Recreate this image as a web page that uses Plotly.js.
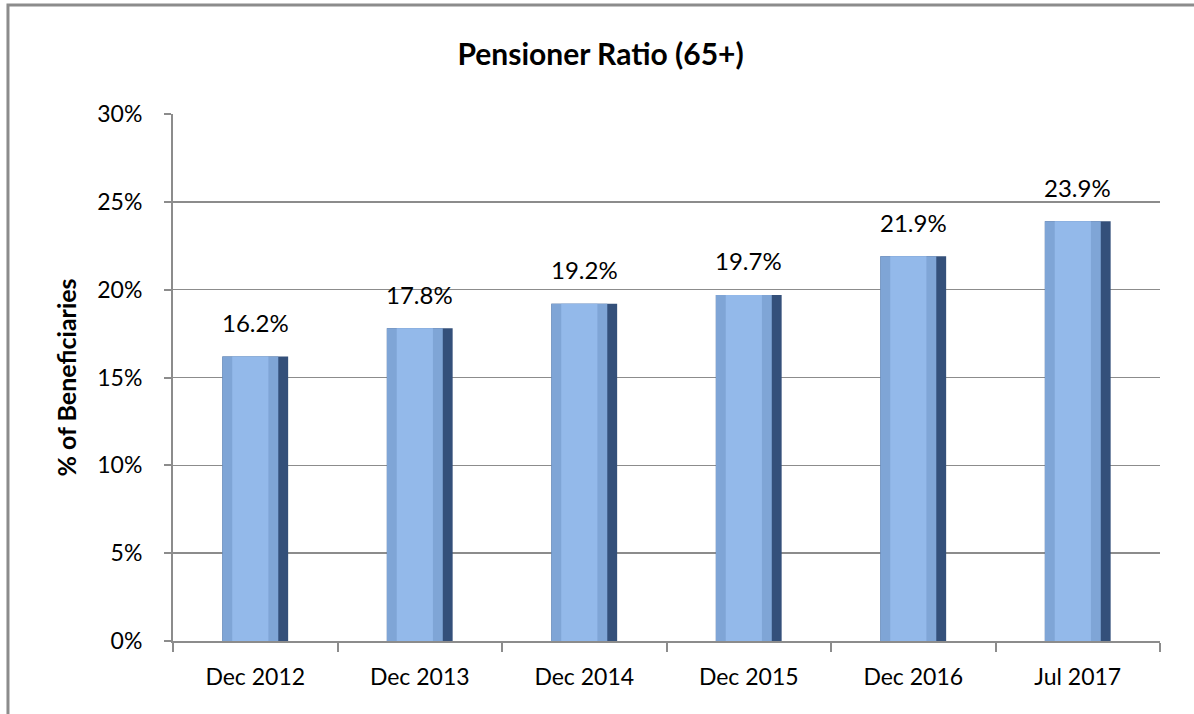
<!DOCTYPE html>
<html>
<head>
<meta charset="utf-8">
<script src="https://cdn.plot.ly/plotly-3.0.1.min.js"></script>
<style>html,body{margin:0;padding:0;background:#fff;}#chart{width:1194px;height:714px;}</style>
</head>
<body>
<div id="chart"></div>
<script>
const categories = ["Dec 2012", "Dec 2013", "Dec 2014", "Dec 2015", "Dec 2016", "Jul 2017"];
const ratios = [16.2, 17.8, 19.2, 19.7, 21.9, 23.9];
const labels = ["16.2%", "17.8%", "19.2%", "19.7%", "21.9%", "23.9%"];
const yTickVals = [0, 5, 10, 15, 20, 25, 30];
const yTickText = ["0%", "5%", "10%", "15%", "20%", "25%", "30%"];

const FONT = "Lato, 'Open Sans', sans-serif";

const traces = [
  {
    type: "bar", x: categories, y: ratios, width: 0.4,
    marker: {color: "#34507a", line: {width: 0}},
    hoverinfo: "skip", showlegend: false
  },
  {
    type: "bar", x: categories, y: ratios, width: 0.34, offset: -0.2,
    marker: {color: "#7fa5d6", line: {width: 0}},
    hoverinfo: "skip", showlegend: false
  },
  {
    type: "bar", x: categories, y: ratios, width: 0.22, offset: -0.14,
    marker: {color: "#93b9ea", line: {width: 0}},
    hoverinfo: "skip", showlegend: false
  }
];

const annotations = categories.map((c, i) => ({
  x: c, y: ratios[i], xref: "x", yref: "y",
  text: labels[i], showarrow: false, yanchor: "middle", yshift: 34,
  font: {family: FONT, size: 24, color: "#000"}
}));

const layout = {
  width: 1194, height: 714,
  margin: {l: 173, r: 34, t: 114, b: 73},
  paper_bgcolor: "#fff", plot_bgcolor: "#fff",
  barmode: "overlay",
  title: {
    text: "<b>Pensioner Ratio (65+)</b>",
    x: 0.503, xanchor: "center", y: 0.923, yanchor: "middle",
    font: {family: FONT, size: 30, color: "#000"}
  },
  xaxis: {
    type: "category", showline: true, linecolor: "#8c8c8c", linewidth: 2,
    ticks: "outside", tickson: "boundaries", ticklen: 9, tickcolor: "#8c8c8c", tickwidth: 2,
    showgrid: false, fixedrange: true, ticklabelstandoff: 14,
    tickfont: {family: FONT, size: 23, color: "#000"}
  },
  yaxis: {
    range: [0, 30], tickvals: yTickVals, ticktext: yTickText,
    showline: true, linecolor: "#8c8c8c", linewidth: 2,
    ticks: "outside", ticklen: 7, tickcolor: "#8c8c8c", tickwidth: 2,
    showgrid: true, gridcolor: "#8c8c8c", gridwidth: 1.5, zeroline: false,
    ticklabelstandoff: 17,
    tickfont: {family: FONT, size: 23, color: "#000"},
    title: {text: "<b>% of Beneficiaries</b>", standoff: 14, font: {family: FONT, size: 25, color: "#000"}}
  },
  annotations: annotations,
  shapes: [{
    type: "rect", xref: "paper", yref: "paper",
    x0: -0.1672, x1: 1.040, y0: -0.3, y1: 1.2068,
    line: {color: "#8c8c8c", width: 3}, fillcolor: "rgba(0,0,0,0)", layer: "below"
  }],
  font: {family: FONT}
};

Plotly.newPlot("chart", traces, layout, {displayModeBar: false, staticPlot: true});
</script>
</body>
</html>
